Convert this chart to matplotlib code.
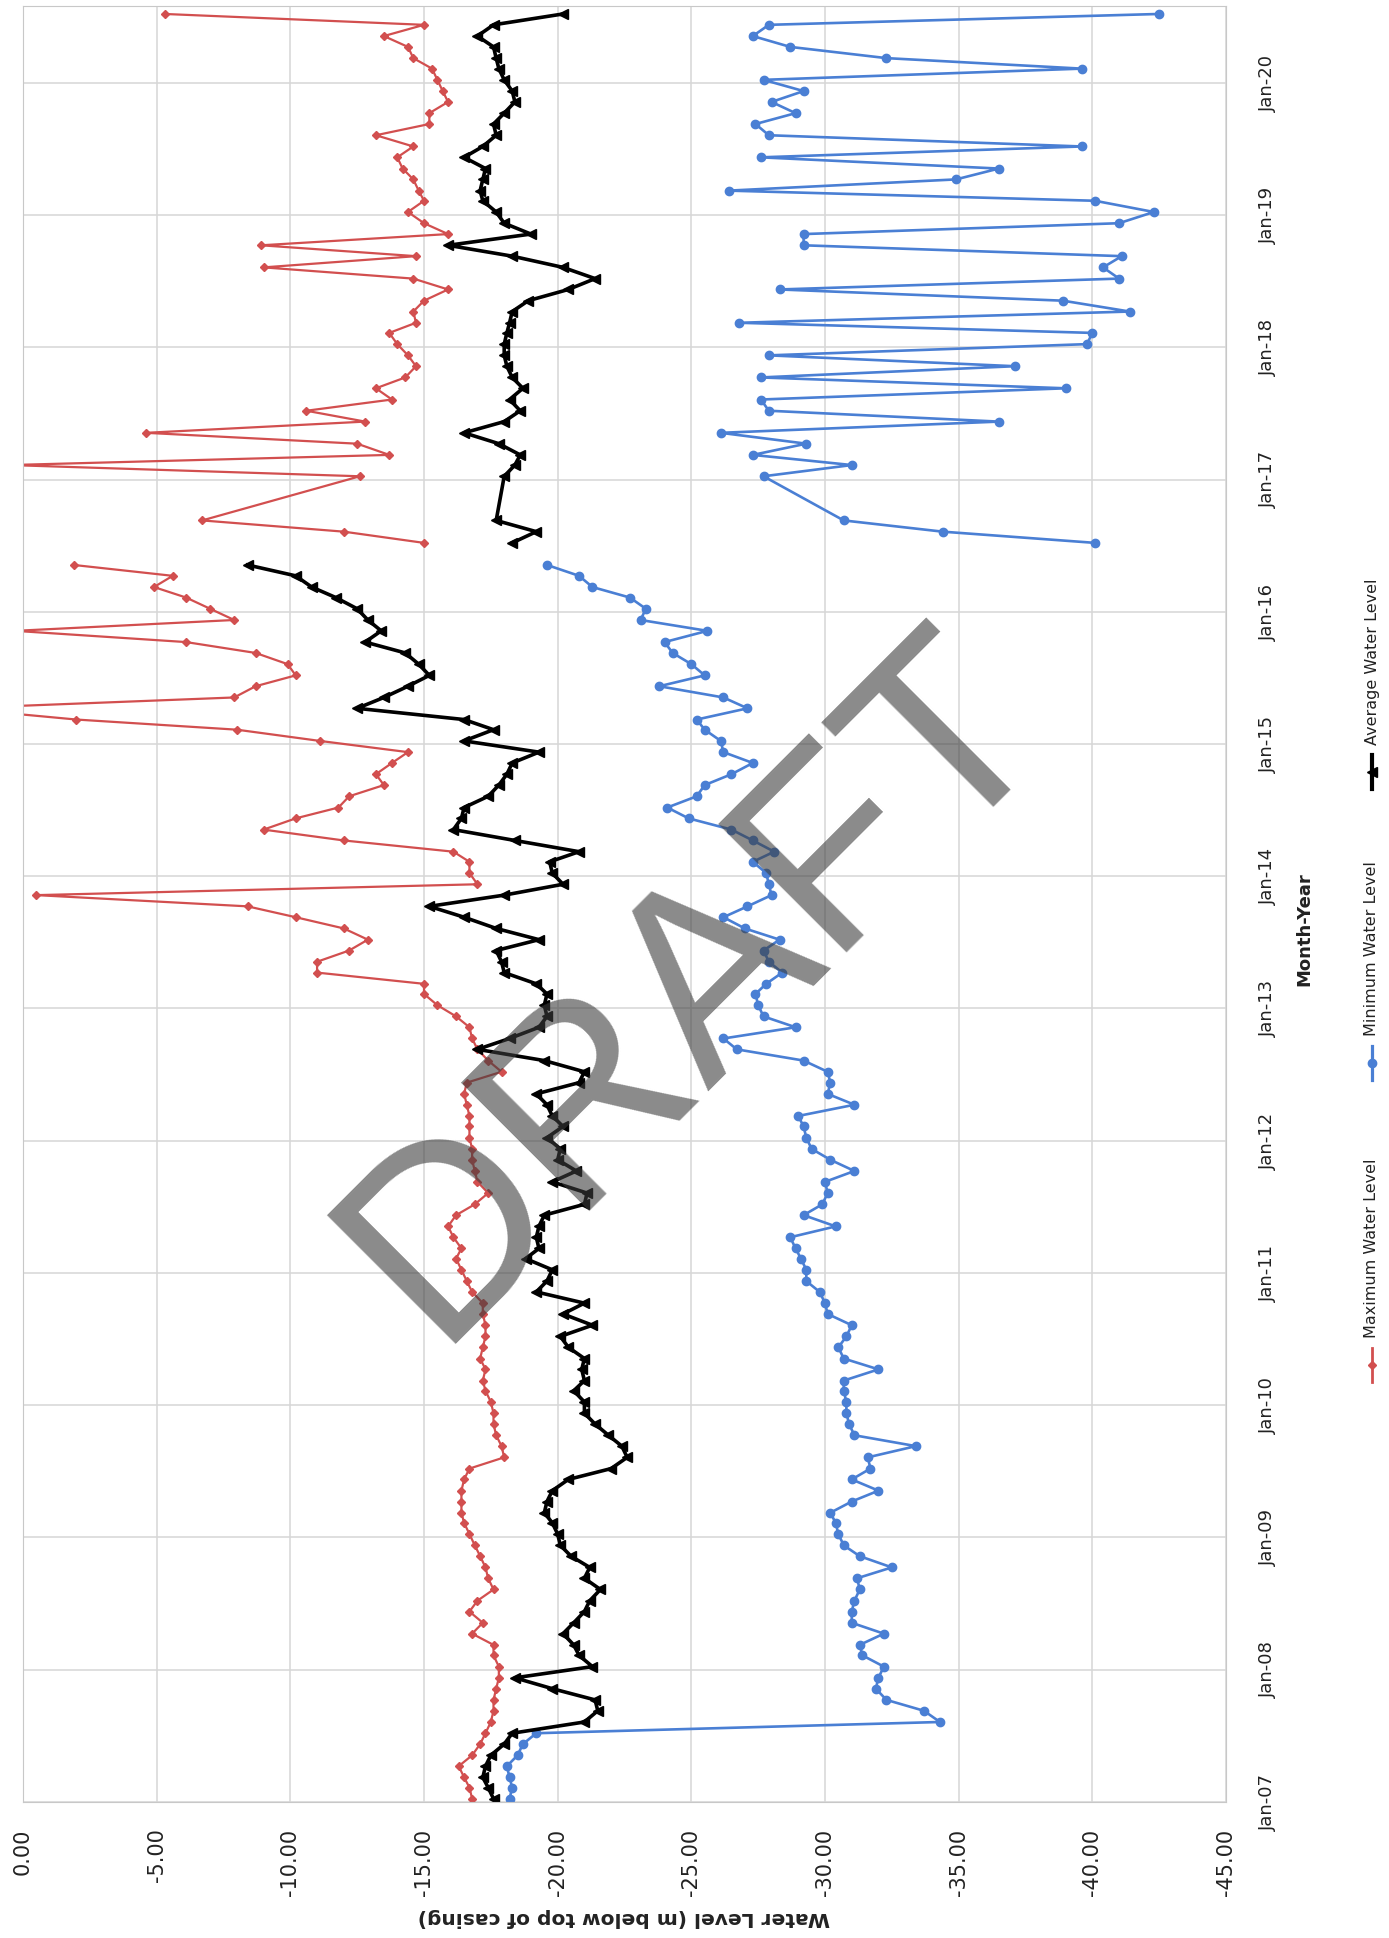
import numpy as np
import matplotlib
matplotlib.use('Agg')
import matplotlib.pyplot as plt
import matplotlib.dates as mdates
from matplotlib.ticker import FixedLocator, FormatStrFormatter
from matplotlib.lines import Line2D
from matplotlib import font_manager

# month index counted from Jan-07; second block restarts after a gap in mid 2016
months_a = list(range(0, 113))
months_b = [114, 115, 116] + list(range(120, 163))

max_a = [-16.8, -16.7, -16.5, -16.3, -16.8, -17.1, -17.3, -17.5, -17.6, -17.6,
         -17.7, -17.8, -17.8, -17.6, -17.6, -16.8, -17.2, -16.7, -17.0, -17.6,
         -17.4, -17.3, -17.1, -16.9, -16.7, -16.5, -16.4, -16.4, -16.4, -16.5,
         -16.7, -18.0, -17.9, -17.7, -17.6, -17.6, -17.5, -17.3, -17.2, -17.3,
         -17.1, -17.2, -17.3, -17.3, -17.2, -17.2, -16.8, -16.6, -16.4, -16.2,
         -16.4, -16.1, -15.9, -16.2, -16.9, -17.4, -17.0, -16.9, -16.8, -16.8,
         -16.7, -16.7, -16.7, -16.6, -16.5, -16.6, -17.9, -17.4, -17.0, -16.8,
         -16.7, -16.2, -15.5, -15.0, -15.0, -11.0, -11.0, -12.2, -12.9, -12.0,
         -10.2, -8.4, -0.5, -17.0, -16.7, -16.7, -16.1, -12.0, -9.0, -10.2,
         -11.8, -12.2, -13.5, -13.2, -13.8, -14.4, -11.1, -8.0, -2.0, 2.5,
         -7.9, -8.7, -10.2, -9.9, -8.7, -6.1, 0.3, -7.9, -7.0, -6.1,
         -4.9, -5.6, -1.9]
min_a = [-18.2, -18.3, -18.2, -18.1, -18.5, -18.7, -19.2, -34.3, -33.7, -32.3,
         -31.9, -32.0, -32.2, -31.4, -31.3, -32.2, -31.0, -31.0, -31.1, -31.3,
         -31.2, -32.5, -31.3, -30.7, -30.5, -30.4, -30.2, -31.0, -32.0, -31.0,
         -31.7, -31.6, -33.4, -31.1, -30.9, -30.8, -30.8, -30.7, -30.7, -32.0,
         -30.7, -30.5, -30.8, -31.0, -30.1, -30.0, -29.8, -29.3, -29.3, -29.1,
         -28.9, -28.7, -30.4, -29.2, -29.9, -30.1, -30.0, -31.1, -30.2, -29.5,
         -29.3, -29.2, -29.0, -31.1, -30.1, -30.2, -30.1, -29.2, -26.7, -26.2,
         -28.9, -27.7, -27.5, -27.4, -27.8, -28.4, -27.9, -27.7, -28.3, -27.0,
         -26.2, -27.1, -28.0, -27.9, -27.8, -27.3, -28.1, -27.3, -26.5, -24.9,
         -24.1, -25.2, -25.5, -26.5, -27.3, -26.2, -26.1, -25.5, -25.2, -27.1,
         -26.2, -23.8, -25.5, -25.0, -24.3, -24.0, -25.6, -23.1, -23.3, -22.7,
         -21.3, -20.8, -19.6]
avg_a = [-17.6, -17.4, -17.2, -17.3, -17.5, -18.0, -18.3, -21.0, -21.5, -21.4,
         -19.8, -18.4, -21.3, -20.8, -20.6, -20.2, -20.6, -21.0, -21.2, -21.6,
         -21.0, -21.2, -20.5, -20.1, -20.0, -19.8, -19.5, -19.6, -19.8, -20.4,
         -22.0, -22.6, -22.4, -21.9, -21.4, -21.0, -21.0, -20.6, -21.0, -20.9,
         -21.0, -20.4, -20.1, -21.3, -20.2, -21.0, -19.2, -19.6, -19.8, -18.8,
         -19.3, -19.2, -19.3, -19.5, -21.0, -21.1, -19.8, -20.7, -20.0, -20.1,
         -19.6, -20.2, -19.8, -19.6, -19.2, -20.8, -21.0, -19.5, -17.0, -18.2,
         -19.3, -19.6, -19.5, -19.6, -19.2, -18.0, -17.9, -17.7, -19.3, -17.7,
         -16.5, -15.2, -18.0, -20.2, -19.8, -19.7, -20.8, -18.4, -16.1, -16.4,
         -16.5, -17.4, -17.8, -18.1, -18.3, -19.3, -16.5, -17.6, -16.5, -12.5,
         -13.5, -14.4, -15.2, -14.8, -14.3, -12.8, -13.4, -12.9, -12.5, -11.7,
         -10.8, -10.2, -8.4]

max_b = [-15.0, -12.0, -6.7,
         -12.6, 0.5, -13.7, -12.5, -4.6, -12.8, -10.6, -13.8, -13.2, -14.3,
         -14.7, -14.4, -14.0, -13.7, -14.7, -14.6, -15.0, -15.9, -14.6, -9.0,
         -14.7, -8.9, -15.9, -15.0, -14.4, -15.0, -14.8, -14.6, -14.2, -14.0,
         -14.6, -13.2, -15.2, -15.2, -15.9, -15.7, -15.5, -15.3, -14.6, -14.4,
         -13.5, -15.0, -5.3]
min_b = [-40.1, -34.4, -30.7,
         -27.7, -31.0, -27.3, -29.3, -26.1, -36.5, -27.9, -27.6, -39.0, -27.6,
         -37.1, -27.9, -39.8, -40.0, -26.8, -41.4, -38.9, -28.3, -41.0, -40.4,
         -41.1, -29.2, -29.2, -41.0, -42.3, -40.1, -26.4, -34.9, -36.5, -27.6,
         -39.6, -27.9, -27.4, -28.9, -28.0, -29.2, -27.7, -39.6, -32.3, -28.7,
         -27.3, -27.9, -42.5]
avg_b = [-18.3, -19.2, -17.7,
         -18.0, -18.4, -18.6, -17.8, -16.5, -18.0, -18.6, -18.2, -18.7, -18.3,
         -18.1, -18.0, -18.0, -18.1, -18.2, -18.3, -18.9, -20.4, -21.4, -20.2,
         -18.3, -15.9, -19.0, -18.0, -17.7, -17.2, -17.1, -17.2, -17.3, -16.5,
         -17.2, -17.7, -17.6, -18.0, -18.4, -18.3, -18.0, -17.8, -17.7, -17.6,
         -17.0, -17.6, -20.2]

level_ticks = [0, -5, -10, -15, -20, -25, -30, -35, -40, -45]
series_names = ['Maximum Water Level', 'Minimum Water Level', 'Average Water Level']

RED = '#d24f4f'
BLUE = '#4a7fd4'
BLACK = '#000000'

names = {f.name for f in font_manager.fontManager.ttflist}
if 'Liberation Sans Narrow' in names:
    narrow, nsize = 'Liberation Sans Narrow', 17
else:
    narrow, nsize = 'DejaVu Sans', 13


def to_dates(m):
    return (np.datetime64('2007-01', 'M') + np.array(m)).astype('datetime64[D]') + 9


W, H = 1389, 1938
fig = plt.figure(figsize=(W / 100, H / 100), dpi=100)
ax = fig.add_axes([23 / W, 136 / H, (1226 - 23) / W, (1802 - 6) / H])

# chart is drawn turned on its side: level runs across, time runs up
da, db = to_dates(months_a), to_dates(months_b)
styles = [
    dict(color=RED, lw=1.6, marker='D', ms=4.5),
    dict(color=BLUE, lw=1.9, marker='o', ms=6),
    dict(color=BLACK, lw=2.6, marker='<', ms=7),
]
for vals_a, vals_b, st in zip([max_a, min_a, avg_a], [max_b, min_b, avg_b], styles):
    ax.plot(vals_a, da, **st)
    ax.plot(vals_b, db, **st)

ax.set_xlim(0, -45)
ax.set_ylim(np.datetime64('2007-01-01'), np.datetime64('2020-08-01'))
ax.xaxis.set_major_locator(FixedLocator(level_ticks))
ax.xaxis.set_major_formatter(FormatStrFormatter('%.2f'))
ax.yaxis.set_major_locator(mdates.YearLocator())
ax.yaxis.set_major_formatter(mdates.DateFormatter('%b-%y'))
ax.yaxis.tick_right()

ax.grid(True, color='#d6d6d6', lw=1.1)
ax.set_axisbelow(True)
for sp in ax.spines.values():
    sp.set_color('#c8c8c8')

ax.tick_params(axis='x', length=0, pad=19, labelsize=15, labelrotation=90,
               labelcolor='#222222')
ax.tick_params(axis='y', length=0, pad=24, labelsize=nsize, labelrotation=90,
               labelcolor='#222222')
for t in ax.get_yticklabels():
    t.set_fontfamily(narrow)
    t.set_va('center')

fig.text(624 / W, 1 - 1918 / H, 'Water Level (m below top of casing)',
         rotation=180, ha='center', va='center', fontsize=14.5,
         fontweight='bold', color='#222222')
fig.text(1304 / W, 1 - 929 / H, 'Month-Year', rotation=90, ha='center',
         va='center', fontsize=nsize, fontweight='bold', family=narrow,
         color='#222222')

# legend, turned like the rest of the chart
leg_y = [1365, 1063, 772]
for name, st, yy in zip(series_names, styles, leg_y):
    x0 = 1372 / W
    fig.add_artist(Line2D([x0, x0], [1 - (yy + 17) / H, 1 - (yy - 17) / H],
                          color=st['color'], lw=st['lw'] + 0.4))
    fig.add_artist(Line2D([x0], [1 - yy / H], color=st['color'],
                          marker=st['marker'], ms=st['ms'], lw=0))
    fig.text(x0, 1 - (yy - 27) / H, name, rotation=90, ha='center',
             va='bottom', fontsize=nsize - 1.5, family=narrow, color='#222222')

# watermark, anchored at the start of its baseline
fig.text(434 / W, 1 - 1344 / H, 'DRAFT', rotation=45, rotation_mode='anchor',
         ha='left', va='baseline', fontsize=189, family='Liberation Sans',
         color='#3c3c3c', alpha=0.6, zorder=10)

fig.savefig('out.png', dpi=100, facecolor='white')
